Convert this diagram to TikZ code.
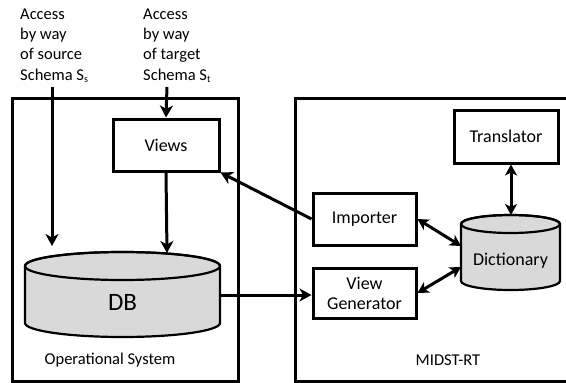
\documentclass[tikz,border=0pt]{standalone}
\usepackage{fontspec}
\setmainfont{Carlito}
\usetikzlibrary{arrows.meta}
\begin{document}
\begin{tikzpicture}[x=1pt,y=-1pt,
  frame/.style={line width=3pt},
  box/.style={draw,line width=3pt,inner sep=0pt,font=\fontsize{18}{22}\selectfont,align=center},
  arr/.style={line width=3pt,-{Stealth[length=12pt,width=13pt,inset=3.5pt]}},
  darr/.style={line width=3pt,{Stealth[length=11pt,width=12pt,inset=3pt]}-{Stealth[length=11pt,width=12pt,inset=3pt]}},
  cyl/.style={line width=2.2pt,fill=black!15,draw=black},
  lab/.style={font=\fontsize{16.5}{20}\selectfont,anchor=base west,inner sep=0pt},
  syslabel/.style={font=\fontsize{16.5}{20}\selectfont,inner sep=0pt},
]
\useasboundingbox (0,0) rectangle (566,383);

% top labels
\node[lab] (a1) at (20,19) {Access};
\node[lab] (a2) at (20,39) {by way};
\node[lab] (a3) at (20,59) {of source};
\node[lab] (a4) at (20,80) {Schema S\textsubscript{\fontsize{10}{12}\selectfont s}};
\node[lab] (b1) at (143,19) {Access};
\node[lab] (b2) at (143,39) {by way};
\node[lab] (b3) at (143,59) {of target};
\node[lab] (b4) at (143,80) {Schema S\textsubscript{\fontsize{10}{12}\selectfont t}};

% frames
\draw[frame] (12,98) rectangle (238,381.5);
\draw[frame] (567,98) -- (295,98) -- (295,381.5) -- (567,381.5);
\node[syslabel] (opsys) at (110,360) {Operational System};
\node[syslabel] (midst) at (448,360) {MIDST-RT};

% boxes
\node[box,minimum width=106pt,minimum height=52pt] (views) at (166,145) {Views};
\node[box,minimum width=103pt,minimum height=52pt] (imp) at (364.5,219) {Importer};
\node[box,minimum width=103pt,minimum height=50pt] (vg) at (364.5,293) {View\\[-2pt]Generator};
\node[box,minimum width=104pt,minimum height=53pt] (trans) at (506,136.5) {Translator};

% DB cylinder
\filldraw[cyl] (25,266) -- (25,323) arc[start angle=180,end angle=0,x radius=97.5,y radius=14]
  -- (220,266) arc[start angle=0,end angle=-180,x radius=97.5,y radius=14] -- cycle;
\draw[line width=2.2pt] (122.5,266) ellipse[x radius=97.5,y radius=14];
\node[inner sep=0pt,font=\fontsize{25}{30}\selectfont] (db) at (122.5,302) {DB};

% Dictionary cylinder
\filldraw[cyl] (461,224) -- (461,281) arc[start angle=180,end angle=0,x radius=49.5,y radius=9]
  -- (560,224) arc[start angle=0,end angle=-180,x radius=49.5,y radius=9] -- cycle;
\draw[line width=2.2pt] (510.5,224) ellipse[x radius=49.5,y radius=9];
\node[inner sep=0pt,font=\fontsize{18}{22}\selectfont] (dict) at (510.5,261) {Dictionary};

% coordinates
\coordinate (ss) at (52,87);
\coordinate (dbl) at (52,246);
\coordinate (st) at (167,87);
\coordinate (dbt) at (167,253);
\coordinate (dbr) at (220,295);
\coordinate (dtop) at (511,215);
\coordinate (dil) at (461,246);
\coordinate (dvl) at (461,267);

% connectors
\draw[arr] (ss) -- (dbl);
\draw[arr] (st) -- (views.north);
\draw[arr] (views.south) -- (dbt);
\draw[arr] (imp.west) -- (views.south east);
\draw[arr] (dbr) -- (dbr -| vg.west);
\draw[darr] (trans.south -| dtop) -- (dtop);
\draw[darr] (imp.east) -- (dil);
\draw[darr] (vg.east) -- (dvl);
\end{tikzpicture}
\end{document}
